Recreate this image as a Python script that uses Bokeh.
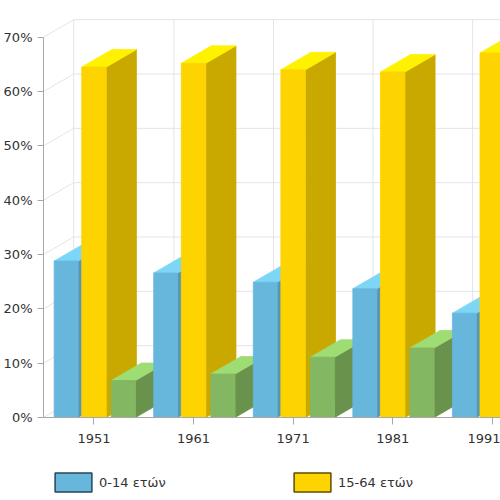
from bokeh.plotting import figure
from bokeh.layouts import column
from bokeh.models import (FixedTicker, PrintfTickFormatter, Legend, LegendItem,
                          Range1d, ColumnDataSource)
from bokeh.embed import file_html
from bokeh.resources import INLINE

# ---------------- data ----------------
years = ["1951", "1961", "1971", "1981", "1991"]
age_0_14 = [28.8, 26.6, 24.9, 23.7, 19.2]
age_15_64 = [64.5, 65.2, 64.0, 63.6, 67.1]
age_65_plus = [6.8, 8.0, 11.1, 12.8, 13.7]
series_names = ["0-14 ετών", "15-64 ετών", "65+ ετών"]
y_ticks = [0, 10, 20, 30, 40, 50, 60, 70]

# ---------------- layout / style ----------------
W = 500
H_MAIN = 465
H_LEG = 35
L = 41            # left border (frame left edge)
ZERO_PX = 417.0   # pixel y of 0 %
PX_X = 100.0      # pixels per category
PX_Y = (417 - 36.7) / 70.0   # pixels per percent
CAT0_PX = 91.7    # pixel x of first category centre
x_start = (L - CAT0_PX) / PX_X
x_end = x_start + (W - L) / PX_X
y_end = ZERO_PX / PX_Y
DX = 30.3 / PX_X  # 3D depth offset (x, data units)
DY = 17.5 / PX_Y  # 3D depth offset (y, data units)

bar_slots = [(-0.400, -0.160), (-0.123, 0.123), (0.173, 0.417)]
front_cols = ["#67b7dc", "#fdd400", "#84b761"]
side_cols = ["#5596b6", "#c9a900", "#69924d"]
top_cols = ["#7ed6f6", "#fff200", "#9edc74"]
edge_cols = ["#27465a", "#5e4e00", "#3b5a2a"]
GRID = "#e4e4e8"
AXIS = "#a8a8a8"
TXT = "#333333"
FONT = "DejaVu Sans"

p = figure(width=W, height=H_MAIN, output_backend="svg", toolbar_location=None,
           x_range=Range1d(x_start, x_end), y_range=Range1d(0, y_end),
           min_border_left=L, min_border_right=0, min_border_top=0,
           min_border_bottom=int(H_MAIN - ZERO_PX))
p.outline_line_color = None
p.xgrid.visible = False
p.ygrid.visible = False

# ---------------- 3D walls / grid ----------------
gx, gy = [], []
for t in y_ticks:
    gx.append([x_start + DX, x_end + 1]); gy.append([t + DY, t + DY])
    gx.append([x_start, x_start + DX]); gy.append([t, t + DY])
gx.append([x_start + DX, x_start + DX]); gy.append([DY, y_ticks[-1] + DY])
for i in range(len(years)):
    xb = i + 0.5 + DX
    gx.append([xb, xb]); gy.append([DY, y_ticks[-1] + DY])
p.multi_line(gx, gy, line_color=GRID, line_width=1)

# ---------------- 3D bars ----------------
series = [age_0_14, age_15_64, age_65_plus]
xs, ys, fills, lines = [], [], [], []
for i in range(len(years)):
    for s, vals in enumerate(series):
        h = vals[i]
        a, b = i + bar_slots[s][0], i + bar_slots[s][1]
        xs.append([b, b + DX, b + DX, b]); ys.append([0, DY, h + DY, h])
        fills.append(side_cols[s]); lines.append(side_cols[s])
        xs.append([a, b, b + DX, a + DX]); ys.append([h, h, h + DY, h + DY])
        fills.append(top_cols[s]); lines.append(top_cols[s])
        xs.append([a, b, b, a]); ys.append([0, 0, h, h])
        fills.append(front_cols[s]); lines.append(front_cols[s])
src = ColumnDataSource(dict(xs=xs, ys=ys, fill=fills, line=lines))
p.patches("xs", "ys", source=src, fill_color="fill", line_color="line",
          line_width=0.8)

# ---------------- axes ----------------
p.yaxis.ticker = FixedTicker(ticks=y_ticks)
p.yaxis.formatter = PrintfTickFormatter(format="%d%%")
p.yaxis.bounds = (0, y_ticks[-1])
p.xaxis.ticker = FixedTicker(ticks=list(range(len(years))))
p.xaxis.major_label_overrides = {i: y for i, y in enumerate(years)}
for ax in (p.xaxis, p.yaxis):
    ax.axis_line_color = AXIS
    ax.major_tick_line_color = AXIS
    ax.minor_tick_line_color = None
    ax.major_tick_in = 0
    ax.major_tick_out = 6
    ax.major_label_text_font = FONT
    ax.major_label_text_font_size = "13px"
    ax.major_label_text_color = TXT
p.yaxis.major_label_standoff = 5
p.xaxis.major_label_standoff = 9
p.xaxis.major_tick_out = 7

# ---------------- legend strip (visible part: first two series) ----------------
pl = figure(width=W, height=H_LEG, output_backend="svg", toolbar_location=None,
            x_range=Range1d(0, 1), y_range=Range1d(0, 1),
            x_axis_type=None, y_axis_type=None,
            min_border_left=0, min_border_right=0, min_border_top=0,
            min_border_bottom=0)
pl.outline_line_color = None
pl.xgrid.visible = False
pl.ygrid.visible = False
items = []
for name, fc, ec in list(zip(series_names, front_cols, edge_cols))[:2]:
    # swatch-only renderer kept outside the visible range of the strip
    r = pl.quad(left=[-3], right=[-2], top=[-2], bottom=[-3], fill_color=fc,
                line_color=ec, line_width=1.5)
    items.append(LegendItem(label=name, renderers=[r]))
legend = Legend(items=items, orientation="horizontal", location=(7, 6),
                glyph_width=46, glyph_height=24, label_standoff=3,
                label_width=184, spacing=6, padding=0, margin=0,
                border_line_alpha=0, background_fill_alpha=0,
                label_text_font=FONT, label_text_font_size="13px",
                label_text_color=TXT)
pl.add_layout(legend, "center")

layout = column(p, pl, spacing=0)
open("out.html", "w").write(file_html(layout, INLINE))
